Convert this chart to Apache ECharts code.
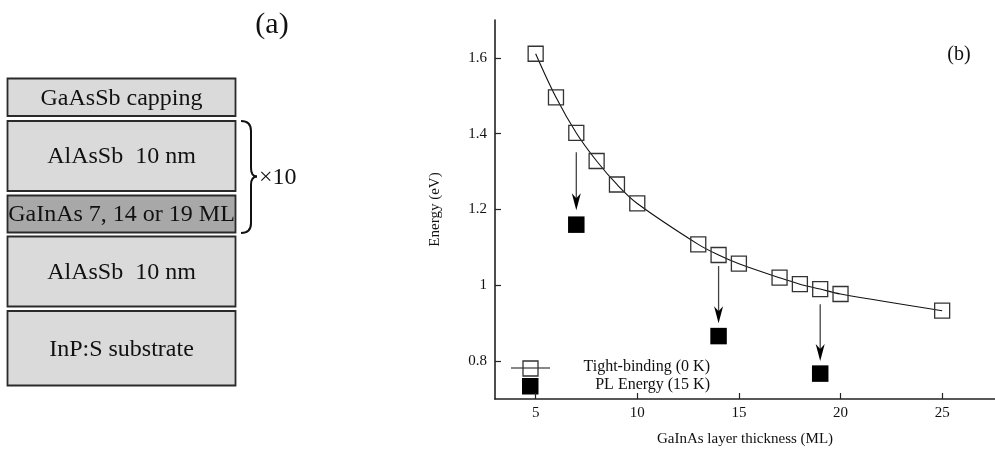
<!DOCTYPE html>
<html>
<head>
<meta charset="utf-8">
<style>
  html, body { margin: 0; padding: 0; background: #fff; }
  #chart { width: 995px; height: 452px; }
</style>
<script src="https://cdn.jsdelivr.net/npm/echarts@6/dist/echarts.min.js"></script>
</head>
<body>
<div id="chart"></div>
<script>
// GaInAs well thickness (monolayers) and calculated transition energies (eV)
const thickness = [5, 6, 7, 8, 9, 10, 13, 14, 15, 17, 18, 19, 20, 25];
const tbEnergy = [1.611, 1.496, 1.402, 1.328, 1.266, 1.216, 1.108, 1.080, 1.057, 1.020, 1.003, 0.990, 0.977, 0.933];

// Measured photoluminescence peaks
const plThickness = [7, 14, 19];
const plEnergy = [1.160, 0.866, 0.767];

// Arrows from the calculated curve down to the measured peaks
const arrowFrom = [1.351, 1.051, 0.950];
const arrowTo = [1.198, 0.900, 0.800];

// Axis tick values
const xTicks = [5, 10, 15, 20, 25];
const yTicks = [0.8, 1, 1.2, 1.4, 1.6];

// Layer stack of the sample, top to bottom
const layerNames = ['GaAsSb capping', 'AlAsSb  10 nm', 'GaInAs 7, 14 or 19 ML', 'AlAsSb  10 nm', 'InP:S substrate'];
const repeatLabel = '\u00d710';

const SERIF = "'Liberation Serif', 'DejaVu Serif', 'Times New Roman', serif";
const INK = '#222';

const chart = echarts.init(document.getElementById('chart'), null, { renderer: 'canvas' });

// Layer boxes geometry (left panel)
const boxLeft = 7.5, boxWidth = 228;
const layerBoxes = [
  { top: 78.5, bottom: 116, fill: '#dadada' },
  { top: 121, bottom: 191, fill: '#dadada' },
  { top: 195.5, bottom: 232.5, fill: '#a8a8a8' },
  { top: 236.5, bottom: 306.5, fill: '#dadada' },
  { top: 311, bottom: 385.5, fill: '#dadada' }
];

function textEl(text, x, y, size, align) {
  return {
    type: 'text', silent: true,
    style: {
      text: text, x: x, y: y, font: size + 'px ' + SERIF, fill: '#111',
      textAlign: align, textVerticalAlign: 'middle', align: align, verticalAlign: 'middle'
    }
  };
}

const graphics = [];
layerBoxes.forEach((b, i) => {
  graphics.push({
    type: 'rect', silent: true,
    shape: { x: boxLeft, y: b.top, width: boxWidth, height: b.bottom - b.top },
    style: { fill: b.fill, stroke: '#2a2a2a', lineWidth: 1.8 }
  });
  graphics.push(textEl(layerNames[i], boxLeft + boxWidth / 2, (b.top + b.bottom) / 2 + 1, 24, 'center'));
});

// Curly brace marking the repeated period
const braceStyle = { fill: 'none', stroke: '#111', lineWidth: 2 };
[
  { type: 'bezierCurve', shape: { x1: 241, y1: 121, cpx1: 251, cpy1: 121, x2: 251, y2: 131 } },
  { type: 'line', shape: { x1: 251, y1: 131, x2: 251, y2: 168 } },
  { type: 'bezierCurve', shape: { x1: 251, y1: 168, cpx1: 251, cpy1: 176.5, x2: 257, y2: 176.5 } },
  { type: 'bezierCurve', shape: { x1: 257, y1: 176.5, cpx1: 251, cpy1: 176.5, x2: 251, y2: 185 } },
  { type: 'line', shape: { x1: 251, y1: 185, x2: 251, y2: 223 } },
  { type: 'bezierCurve', shape: { x1: 251, y1: 223, cpx1: 251, cpy1: 233, x2: 241, y2: 233 } }
].forEach(el => {
  el.silent = true;
  el.style = braceStyle;
  graphics.push(el);
});
graphics.push(textEl(repeatLabel, 259, 178, 24, 'left'));

// Panel tags
graphics.push(textEl('(a)', 272, 25, 30, 'center'));
graphics.push(textEl('(b)', 959, 55, 20, 'center'));

// Legend inside the plot
graphics.push({
  type: 'line', silent: true,
  shape: { x1: 511, y1: 368, x2: 550, y2: 368 },
  style: { stroke: '#111', lineWidth: 1.2 }
});
graphics.push({
  type: 'rect', silent: true,
  shape: { x: 523, y: 361, width: 15, height: 15 },
  style: { fill: 'rgba(255,255,255,0)', stroke: '#333', lineWidth: 1.3 }
});
graphics.push({
  type: 'rect', silent: true,
  shape: { x: 522, y: 378, width: 16.5, height: 16.5 },
  style: { fill: '#000' }
});
graphics.push(textEl('Tight-binding (0 K)', 710, 367, 16, 'right'));
graphics.push(textEl('PL Energy (15 K)', 710, 385, 16, 'right'));

const arrowData = plThickness.map((x, i) => [x, arrowFrom[i], arrowTo[i]]);

const option = {
  animation: false,
  backgroundColor: '#fff',
  grid: { left: 495, right: 0, top: 20, bottom: 50, containLabel: false },
  xAxis: {
    type: 'value', min: 3, max: 27.6,
    name: 'GaInAs layer thickness (ML)', nameLocation: 'middle', nameGap: 33,
    nameTextStyle: { fontFamily: SERIF, fontSize: 15, color: '#111' },
    axisLine: { show: true, onZero: false, lineStyle: { color: INK, width: 1.6 } },
    axisTick: { show: true, inside: true, length: 6, customValues: xTicks, lineStyle: { color: INK, width: 1.2 } },
    axisLabel: { customValues: xTicks, margin: 7, fontFamily: SERIF, fontSize: 15, color: '#111' },
    splitLine: { show: false }
  },
  yAxis: {
    type: 'value', min: 0.7, max: 1.7,
    name: 'Energy (eV)', nameLocation: 'middle', nameGap: 52,
    nameTextStyle: { fontFamily: SERIF, fontSize: 15, color: '#111' },
    axisLine: { show: true, onZero: false, lineStyle: { color: INK, width: 1.6 } },
    axisTick: { show: true, inside: true, length: 6, customValues: yTicks, lineStyle: { color: INK, width: 1.2 } },
    axisLabel: { customValues: yTicks, margin: 8, fontFamily: SERIF, fontSize: 15, color: '#111',
      formatter: v => String(Math.round(v * 10) / 10) },
    splitLine: { show: false }
  },
  graphic: { elements: graphics },
  series: [
    {
      name: 'fit', type: 'line', smooth: 0.35, showSymbol: false, silent: true,
      data: thickness.map((x, i) => [x, tbEnergy[i]]),
      lineStyle: { color: '#111', width: 1.1 },
      z: 2
    },
    {
      name: 'Tight-binding (0 K)', type: 'scatter', symbol: 'rect', symbolSize: 15, silent: true,
      data: thickness.map((x, i) => [x, tbEnergy[i]]),
      itemStyle: { color: 'rgba(255,255,255,0)', borderColor: '#333', borderWidth: 1.3, opacity: 1 },
      z: 3
    },
    {
      name: 'PL Energy (15 K)', type: 'scatter', symbol: 'rect', symbolSize: 16.5, silent: true,
      data: plThickness.map((x, i) => [x, plEnergy[i]]),
      itemStyle: { color: '#000', opacity: 1 },
      z: 3
    },
    {
      name: 'shift', type: 'custom', silent: true,
      data: arrowData,
      encode: { x: 0, y: [1, 2] },
      renderItem: (params, api) => {
        const x = api.value(0);
        const start = api.coord([x, api.value(1)]);
        const tip = api.coord([x, api.value(2)]);
        const headLen = 17, headHalf = 4.5, notch = 5;
        return {
          type: 'group',
          children: [
            {
              type: 'line',
              shape: { x1: start[0], y1: start[1], x2: tip[0], y2: tip[1] - headLen + notch },
              style: { stroke: '#444', lineWidth: 1.3 }
            },
            {
              type: 'polygon',
              shape: { points: [
                [tip[0], tip[1]],
                [tip[0] - headHalf, tip[1] - headLen],
                [tip[0], tip[1] - headLen + notch],
                [tip[0] + headHalf, tip[1] - headLen]
              ] },
              style: { fill: '#000' }
            }
          ]
        };
      },
      z: 4
    }
  ]
};

chart.setOption(option);
</script>
</body>
</html>
